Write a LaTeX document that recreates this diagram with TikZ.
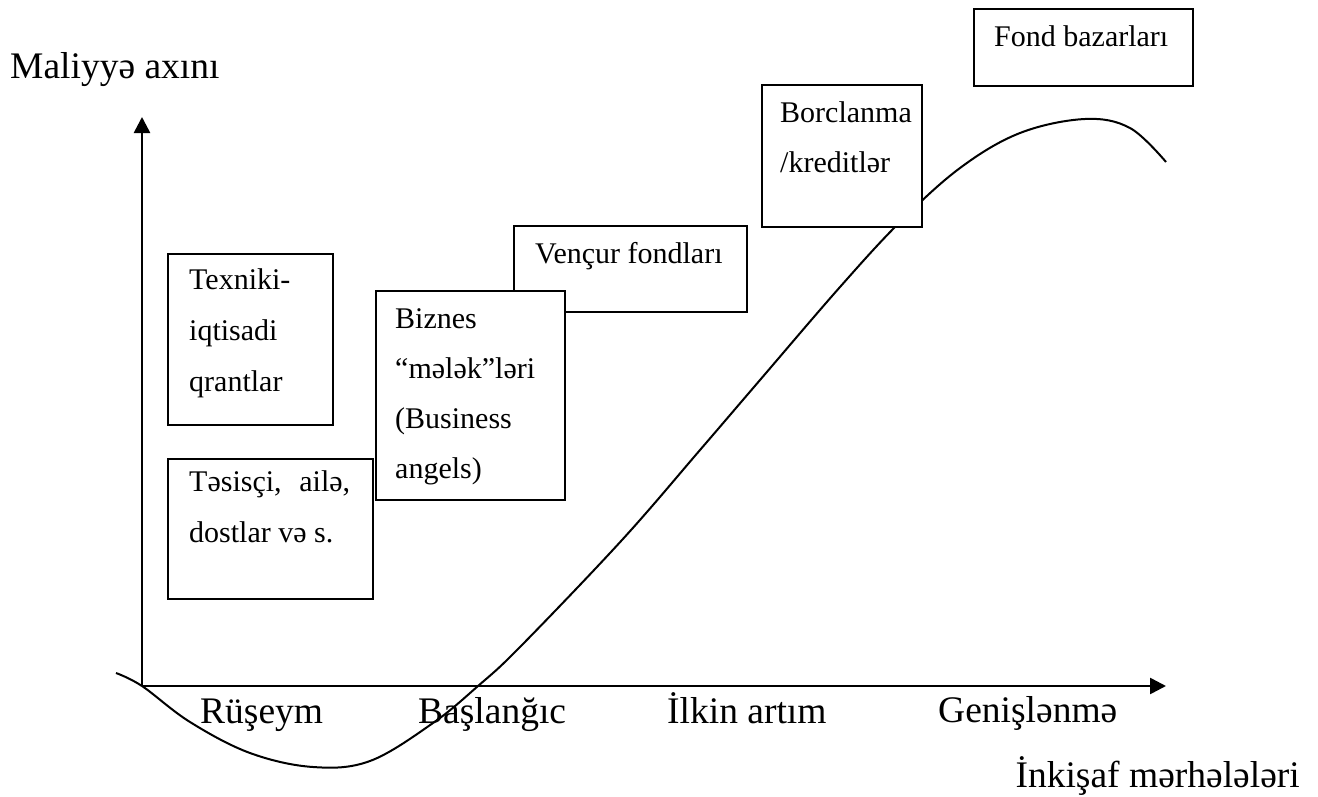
\documentclass[tikz,border=0pt]{standalone}
\usepackage{fontspec}
\setmainfont{Liberation Serif}
\usetikzlibrary{arrows.meta,calc}
\begin{document}
\begin{tikzpicture}[x=1pt,y=-1pt,
  axisline/.style={line width=2.6pt,-{Triangle[length=16pt,width=16pt]}},
  curveline/.style={line width=2pt},
  boxnode/.style={draw,fill=white,line width=1.8pt,minimum width=#1,anchor=north west,inner sep=0pt},
  boxtxt/.style={font=\fontsize{30}{36}\selectfont,anchor=base west,inner sep=0pt},
  axtxt/.style={font=\fontsize{37.5}{45}\selectfont,inner sep=0pt}]
\useasboundingbox (0,0) rectangle (1318,796);
% curve
\draw[curveline] plot[smooth,tension=0.6] coordinates {(116,673) (142,686) (190,722) (250,753) (313,767) (370,761) (433,723) (478,686) (520,647) (622,540) (700,450) (760,380) (840,287) (900,222) (960,168) (1020,133) (1085,119) (1130,128) (1166,162)};
% axes
\coordinate (O) at (142,686);
\coordinate (ytip) at (142,117);
\coordinate (xtip) at (1166,686);
\draw[axisline] (O) -- (ytip);
\draw[axisline] (O) -- (xtip);
% boxes
\node[boxnode=165pt,minimum height=171pt] (tex) at (167,253) {};
\node[boxtxt] (tex1) at ($(tex.north west)+(22,36)$) {Texniki-};
\node[boxtxt] (tex2) at ($(tex1.base west)+(0,51)$) {iqtisadi};
\node[boxtxt] (tex3) at ($(tex2.base west)+(0,51)$) {qrantlar};

\node[boxnode=205pt,minimum height=140pt] (tes) at (167,458) {};
\node[boxtxt] (tes1) at ($(tes.north west)+(22,33)$) {\makebox[161pt][l]{Təsisçi,\hfill ailə,}};
\node[boxtxt] (tes2) at ($(tes1.base west)+(0,51)$) {dostlar və s.};

\node[boxnode=233pt,minimum height=86pt] (ven) at (513,225) {};
\node[boxtxt] (ven1) at ($(ven.north west)+(22,38)$) {Vençur fondları};

\node[boxnode=189pt,minimum height=209pt] (biz) at (375,290) {};
\node[boxtxt] (biz1) at ($(biz.north west)+(20,38)$) {Biznes};
\node[boxtxt] (biz2) at ($(biz1.base west)+(0,50)$) {“mələk”ləri};
\node[boxtxt] (biz3) at ($(biz2.base west)+(0,50)$) {(Business};
\node[boxtxt] (biz4) at ($(biz3.base west)+(0,50)$) {angels)};

\node[boxnode=160pt,minimum height=142pt] (bor) at (761,84) {};
\node[boxtxt] (bor1) at ($(bor.north west)+(19,38)$) {Borclanma};
\node[boxtxt] (bor2) at ($(bor1.base west)+(0,50)$) {/kreditlər};

\node[boxnode=219pt,minimum height=77pt] (fon) at (973,8) {};
\node[boxtxt] (fon1) at ($(fon.north west)+(21,38)$) {Fond bazarları};
% axis labels
\node[axtxt,anchor=base west] (ylab) at (10,78) {Maliyyə axını};
\node[axtxt,anchor=base west] (s1) at (200,723) {Rüşeym};
\node[axtxt,anchor=base west] (s2) at (418,723) {Başlanğıc};
\node[axtxt,anchor=base west] (s3) at (667,723) {İlkin artım};
\node[axtxt,anchor=base west] (s4) at (938,722) {Genişlənmə};
\node[axtxt,anchor=base east] (xlab) at (1300,787) {İnkişaf mərhələləri};
\end{tikzpicture}
\end{document}
